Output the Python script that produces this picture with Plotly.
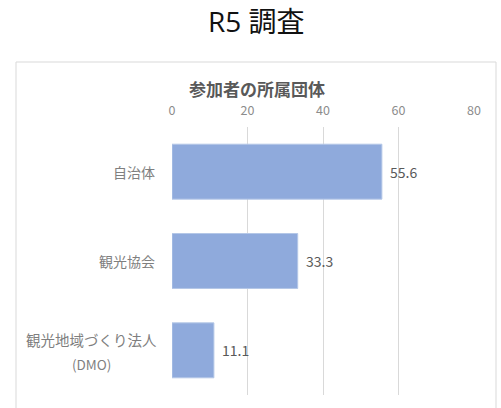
import plotly.graph_objects as go

categories = ["自治体", "観光協会", "観光地域づくり法人"]
category_sub = ["", "", "(DMO)"]
values = [55.6, 33.3, 11.1]
x_ticks = [0, 20, 40, 60, 80]
main_title = "R5 調査"
chart_title = "参加者の所属団体"

W, H = 501, 408
L, R, T, B = 172, 27, 127, 13
pw, ph = W - L - R, H - T - B

def px_x(x):
    return (x - L) / pw

def px_y(y):
    return (H - B - y) / ph

FONT = "Noto Sans CJK JP"

fig = go.Figure()
fig.add_trace(go.Bar(
    y=categories, x=values, orientation="h",
    marker=dict(color="#8FAADC", line=dict(color="#B4C7E7", width=1)),
    hoverinfo="skip",
))

annotations = []
for c, v, s in zip(categories, values, category_sub):
    annotations.append(dict(x=v, y=c, xref="x", yref="y", text=f"{v:.1f}",
                            showarrow=False, xanchor="left", xshift=6,
                            font=dict(family=FONT, size=14, color="#595959")))
    if s:
        annotations.append(dict(x=px_x(91), y=c, xref="paper", yref="y", text=c,
                                showarrow=False, xanchor="center", yshift=11,
                                font=dict(family=FONT, size=14.5, color="#7F7F7F")))
        annotations.append(dict(x=px_x(91), y=c, xref="paper", yref="y", text=s,
                                showarrow=False, xanchor="center", yshift=-14,
                                font=dict(family=FONT, size=13.5, color="#7F7F7F")))
    else:
        annotations.append(dict(x=px_x(157), y=c, xref="paper", yref="y", text=c,
                                showarrow=False, xanchor="right",
                                font=dict(family=FONT, size=14, color="#7F7F7F")))

annotations.append(dict(x=px_x(257), y=px_y(88), xref="paper", yref="paper",
                        text=f"<b>{chart_title}</b>", showarrow=False,
                        xanchor="center", yanchor="middle",
                        font=dict(family=FONT, size=17, color="#595959")))
annotations.append(dict(x=px_x(256), y=px_y(21), xref="paper", yref="paper",
                        text=main_title, showarrow=False,
                        xanchor="center", yanchor="middle",
                        font=dict(family="Open Sans, Noto Sans CJK JP", size=28, color="#111111")))

fig.update_layout(
    width=W, height=H,
    margin=dict(l=L, r=R, t=T, b=B),
    paper_bgcolor="white", plot_bgcolor="white",
    showlegend=False,
    bargap=0.385,
    annotations=annotations,
    shapes=[dict(type="rect", xref="paper", yref="paper",
                 x0=px_x(16), x1=px_x(496), y0=px_y(430), y1=px_y(62),
                 line=dict(color="#D9D9D9", width=1), layer="below")],
    xaxis=dict(range=[0, 80], side="top", tickvals=x_ticks,
               showgrid=True, gridcolor="#D9D9D9", gridwidth=1,
               zeroline=False, showline=False,
               ticks="outside", ticklen=6, tickcolor="rgba(0,0,0,0)",
               tickfont=dict(family=FONT, size=12.5, color="#8C8C8C"),
               fixedrange=True),
    yaxis=dict(categoryorder="array", categoryarray=categories[::-1],
               showticklabels=False, showgrid=False, zeroline=False,
               showline=False, fixedrange=True),
)

fig.write_html("out.html", config={"displayModeBar": False},
               post_script="document.body.style.margin='0';document.body.style.overflow='hidden';")
